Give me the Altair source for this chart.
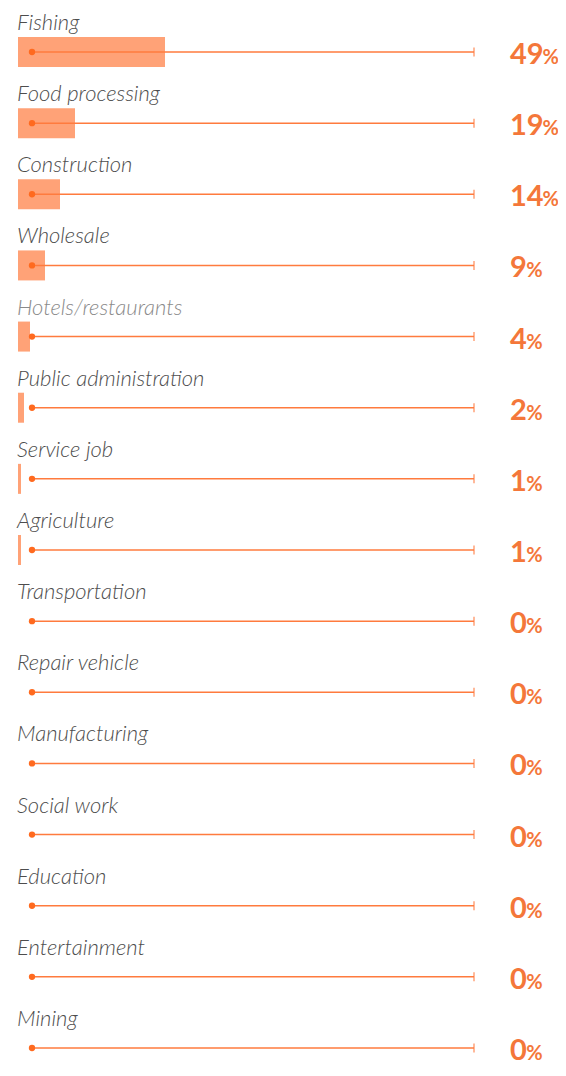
import altair as alt
import pandas as pd

categories = ["Fishing", "Food processing", "Construction", "Wholesale",
              "Hotels/restaurants", "Public administration", "Service job",
              "Agriculture", "Transportation", "Repair vehicle", "Manufacturing",
              "Social work", "Education", "Entertainment", "Mining"]
values = [49, 19, 14, 9, 4, 2, 1, 1, 0, 0, 0, 0, 0, 0, 0]

df = pd.DataFrame({"cat": categories, "value": values})
df["num"] = df["value"].astype(str)

ORANGE_BAR = "#FFA277"
ORANGE_LINE = "#FF7B3E"
ORANGE_DOT = "#FF6A1F"
ORANGE_TEXT = "#F4773A"

yenc = alt.Y("cat:N", sort=categories,
             scale=alt.Scale(type="point", range=[44, 1040], padding=0),
             axis=None)
xscale = alt.Scale(domain=[0, 180], range=[10, 550])

base = alt.Chart(df)

bars = base.mark_bar(size=30, color=ORANGE_BAR).encode(
    x=alt.X("value:Q", scale=xscale, axis=None), y=yenc)

track = base.mark_rule(color=ORANGE_LINE, strokeWidth=1.5).encode(
    x=alt.value(24), x2=alt.value(466), y=yenc)

endtick = base.mark_tick(orient="vertical", size=9, thickness=1.5,
                         color=ORANGE_LINE).encode(x=alt.value(466), y=yenc)

dots = base.mark_circle(size=40, color=ORANGE_DOT, opacity=1).encode(
    x=alt.value(24), y=yenc)

labels = base.mark_text(align="left", baseline="middle", dy=-29,
                        font="Lato", fontStyle="italic", fontWeight=300,
                        fontSize=22).encode(
    x=alt.value(9), y=yenc, text="cat:N",
    color=alt.condition(alt.datum.cat == "Hotels/restaurants",
                        alt.value("#8a8a8a"), alt.value("#4d4d4d")))

nums = base.mark_text(align="left", baseline="alphabetic", dy=12,
                      font="Lato", fontWeight="bold", fontSize=29,
                      color=ORANGE_TEXT).encode(
    x=alt.value(502), y=yenc, text="num:N")

pcts = base.transform_calculate(
    px="502 + 16.2 * length(datum.num)"
).mark_text(align="left", baseline="alphabetic", dy=12,
            font="Lato", fontWeight="bold", fontSize=20,
            color=ORANGE_TEXT).encode(
    x=alt.X("px:Q", scale=None), y=yenc, text=alt.value("%"))

chart = alt.layer(bars, track, endtick, dots, labels, nums, pcts).properties(
    width=550, height=1060, padding=0,
    autosize=alt.AutoSizeParams(type="none")
).configure_view(stroke=None)

chart.save("out.html", embed_options={"renderer": "svg", "actions": False})
